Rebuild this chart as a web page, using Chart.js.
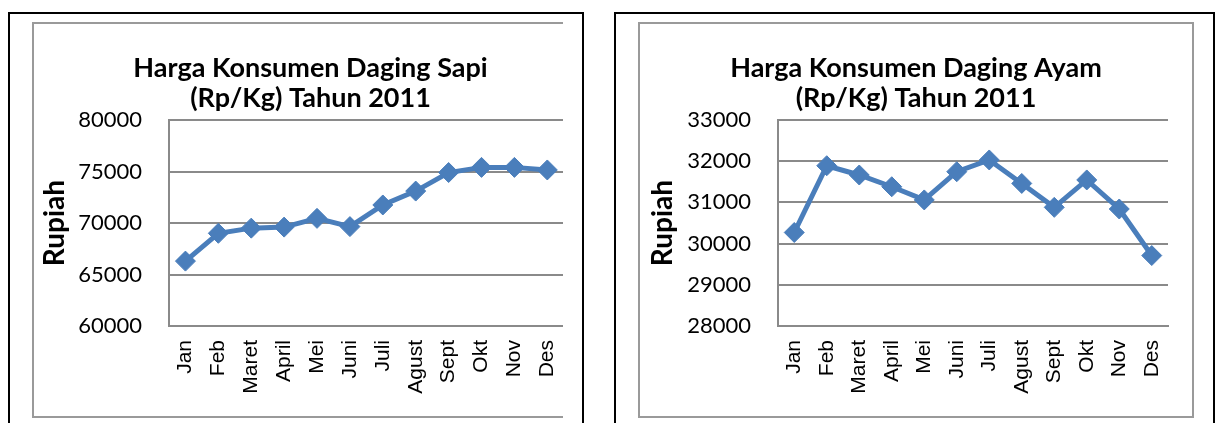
<!DOCTYPE html>
<html>
<head>
<meta charset="utf-8">
<script src="https://cdn.jsdelivr.net/npm/chart.js@4.4.1/dist/chart.umd.min.js"></script>
<style>
  html, body { margin: 0; padding: 0; background: #fff; width: 1216px; height: 423px; overflow: hidden; }
  .abs { position: absolute; box-sizing: border-box; }
  .outer { border: 2px solid #000; }
  .gray { border: 2px solid #9a9a9a; }
</style>
</head>
<body>
<div class="abs outer" style="left:8px;top:12px;width:576px;height:440px;"></div>
<div class="abs" style="left:32px;top:22px;width:531px;height:396px;overflow:hidden;">
  <div class="abs gray" style="left:0;top:0;width:600px;height:396px;"></div>
  <canvas id="c1" class="abs" style="left:2px;top:2px;" width="553" height="392"></canvas>
</div>

<div class="abs outer" style="left:614px;top:12px;width:601px;height:440px;"></div>
<div class="abs gray" style="left:638px;top:22px;width:556px;height:396px;"></div>
<canvas id="c2" class="abs" style="left:640px;top:24px;" width="552" height="392"></canvas>

<script>
const months = ['Jan', 'Feb', 'Maret', 'April', 'Mei', 'Juni', 'Juli', 'Agust', 'Sept', 'Okt', 'Nov', 'Des'];
const sapiValues = [66300, 69000, 69500, 69600, 70450, 69650, 71750, 73100, 74900, 75400, 75400, 75150];
const ayamValues = [30270, 31890, 31665, 31380, 31060, 31745, 32030, 31460, 30880, 31545, 30840, 29710];
const sapiTicks = [60000, 65000, 70000, 75000, 80000];
const ayamTicks = [28000, 29000, 30000, 31000, 32000, 33000];
const sapiTitle = ['Harga Konsumen Daging Sapi', '(Rp/Kg) Tahun 2011'];
const ayamTitle = ['Harga Konsumen Daging Ayam', '(Rp/Kg) Tahun 2011'];
const yAxisTitle = 'Rupiah';

const LINE_COLOR = '#4a7ebb';
const GRID_COLOR = '#8a8a8a';

function makeChart(id, title, values, ticks, cfg) {
  return new Chart(document.getElementById(id), {
    type: 'line',
    data: {
      labels: months,
      datasets: [{
        data: values,
        borderColor: LINE_COLOR,
        backgroundColor: LINE_COLOR,
        borderWidth: 5,
        tension: 0,
        pointStyle: 'rectRot',
        pointRadius: 10,
        pointBorderWidth: 1,
        pointBackgroundColor: LINE_COLOR,
        pointBorderColor: LINE_COLOR,
        clip: false
      }]
    },
    options: {
      responsive: false,
      animation: false,
      devicePixelRatio: 1,
      layout: { padding: { left: 0, right: 0, top: 0, bottom: 0 } },
      plugins: {
        legend: { display: false },
        tooltip: { enabled: false },
        title: {
          display: true,
          text: title,
          color: '#000',
          font: { family: 'Lato', size: 27, weight: 'bold', lineHeight: 30 / 27 },
          padding: { top: 29, bottom: 7 }
        }
      },
      scales: {
        x: {
          type: 'category',
          offset: true,
          grid: { display: false, drawTicks: false },
          border: { display: true, color: GRID_COLOR, width: 2 },
          ticks: {
            color: '#000',
            font: { family: 'Liberation Sans', size: 21 },
            minRotation: 90,
            maxRotation: 90,
            autoSkip: false,
            padding: 14
          },
          afterFit: s => { s.height = 90; }
        },
        y: {
          type: 'linear',
          position: 'left',
          min: ticks[0],
          max: ticks[ticks.length - 1],
          afterBuildTicks: s => { s.ticks = ticks.map(v => ({ value: v })); },
          grid: { color: GRID_COLOR, lineWidth: 2, drawTicks: false },
          border: { display: true, color: GRID_COLOR, width: 2 },
          ticks: {
            color: '#000',
            font: { family: 'Lato', size: 22 },
            padding: 27,
            callback: v => String(v)
          },
          title: {
            display: true,
            text: yAxisTitle,
            color: '#000',
            font: { family: 'Lato', size: 28, weight: 'bold', lineHeight: 1.2 },
            padding: { top: cfg.titlePad, bottom: 0 }
          },
          afterFit: s => { s.width = cfg.yWidth; }
        },
        yr: {
          type: 'linear',
          position: 'right',
          display: true,
          grid: { display: false, drawTicks: false },
          border: { display: false },
          ticks: { display: false },
          afterFit: s => { s.width = cfg.rightPad; }
        }
      }
    }
  });
}

makeChart('c1', sapiTitle, sapiValues, sapiTicks, { yWidth: 135, rightPad: 12, titlePad: 4 });
makeChart('c2', ayamTitle, ayamValues, ayamTicks, { yWidth: 138, rightPad: 24, titlePad: 6 });
</script>
</body>
</html>
